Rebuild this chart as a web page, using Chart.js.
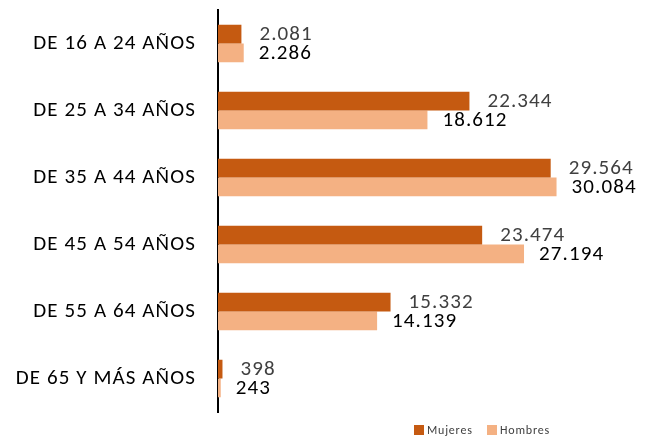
<!DOCTYPE html>
<html>
<head>
<meta charset="utf-8">
<script src="https://cdn.jsdelivr.net/npm/chart.js@4"></script>
<style>
  html, body { margin: 0; padding: 0; background: #fff; }
  #wrap { width: 648px; height: 436px; }
</style>
</head>
<body>
<div id="wrap"><canvas id="age_chart"></canvas></div>
<script>
const categories = ['DE 16 A 24 AÑOS', 'DE 25 A 34 AÑOS', 'DE 35 A 44 AÑOS', 'DE 45 A 54 AÑOS', 'DE 55 A 64 AÑOS', 'DE 65 Y MÁS AÑOS'];
const mujeres = [2081, 22344, 29564, 23474, 15332, 398];
const hombres = [2286, 18612, 30084, 27194, 14139, 243];

const FONT = 'Carlito, Calibri, Lato, sans-serif';
const fmt = v => v.toLocaleString('de-DE');

// wider letter spacing, closer to the original Calibri look
const spacing = {
    id: 'spacing',
    beforeDraw(chart) { chart.ctx.letterSpacing = '1.1px'; },
    afterDraw(chart) { chart.ctx.letterSpacing = '0px'; }
};

// value labels at the end of each bar
const barLabels = {
    id: 'barLabels',
    afterDatasetsDraw(chart) {
        const ctx = chart.ctx;
        ctx.save();
        ctx.font = '21px ' + FONT;
        ctx.letterSpacing = '1.1px';
        ctx.textBaseline = 'middle';
        ctx.textAlign = 'left';
        chart.data.datasets.forEach((ds, i) => {
            const meta = chart.getDatasetMeta(i);
            ctx.fillStyle = i === 0 ? '#404040' : '#000000';
            const gap = i === 0 ? 18 : 15;
            meta.data.forEach((bar, j) => {
                ctx.fillText(fmt(ds.data[j]), bar.x + gap, bar.y + 1);
            });
        });
        ctx.restore();
    }
};

// small legend at the bottom right
const miniLegend = {
    id: 'miniLegend',
    afterDraw(chart) {
        const ctx = chart.ctx;
        ctx.save();
        ctx.font = '12px ' + FONT;
        ctx.letterSpacing = '0.8px';
        ctx.textBaseline = 'middle';
        let x = 414;
        const y = 430;
        chart.data.datasets.forEach(ds => {
            ctx.fillStyle = ds.backgroundColor;
            ctx.fillRect(x, y - 5, 10, 10);
            ctx.fillStyle = '#404040';
            ctx.fillText(ds.label, x + 13, y + 1);
            x += 73;
        });
        ctx.restore();
    }
};

new Chart(document.getElementById('age_chart').getContext('2d'), {
    type: 'bar',
    data: {
        labels: categories,
        datasets: [
            {
                label: 'Mujeres',
                data: mujeres,
                backgroundColor: '#C55A11',
                categoryPercentage: 0.56,
                barPercentage: 1.0
            },
            {
                label: 'Hombres',
                data: hombres,
                backgroundColor: '#F4B183',
                categoryPercentage: 0.56,
                barPercentage: 1.0
            }
        ]
    },
    options: {
        indexAxis: 'y',
        responsive: true,
        maintainAspectRatio: false,
        animation: false,
        layout: { padding: { top: 10, right: 8, bottom: 24, left: 0 } },
        plugins: {
            legend: { display: false },
            tooltip: { enabled: false }
        },
        scales: {
            x: {
                display: false,
                min: 0,
                max: 37500
            },
            y: {
                afterFit: s => {
                    s.width = 218;
                    s.paddingTop = 0;
                    s.paddingBottom = 0;
                },
                grid: { display: false, drawTicks: false },
                border: { display: true, color: '#000000', width: 2 },
                ticks: {
                    color: '#000000',
                    padding: 22,
                    font: { family: FONT, size: 21 }
                }
            }
        }
    },
    plugins: [spacing, barLabels, miniLegend]
});
</script>
</body>
</html>
